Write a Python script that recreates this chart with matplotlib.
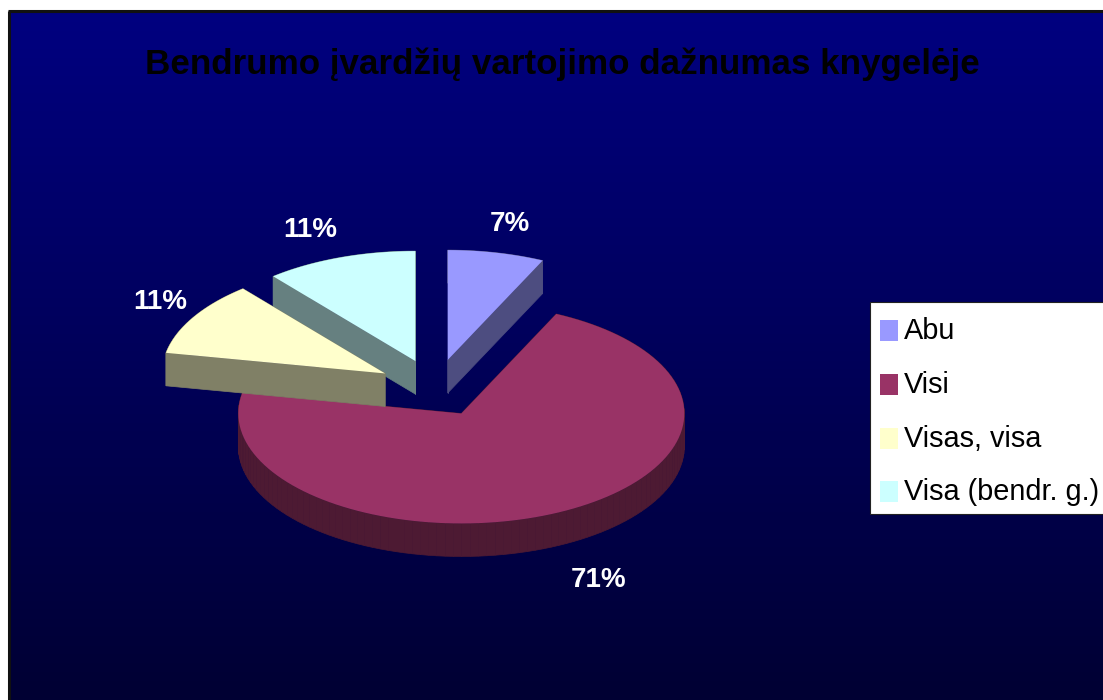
# -*- coding: utf-8 -*-
import numpy as np
import matplotlib
matplotlib.use('Agg')
import matplotlib.pyplot as plt
from matplotlib.colors import LinearSegmentedColormap, to_rgb
from matplotlib.patches import Polygon, Rectangle

# Dados
title = u'Bendrumo įvardžių vartojimo dažnumas knygelėje'
categories = ['Abu', 'Visi', 'Visas, visa', 'Visa (bendr. g.)']
values = [7, 71, 11, 11]
colors = ['#9999FF', '#993366', '#FFFFCC', '#CCFFFF']

# Layout em pixels
W, H = 1103, 700
cx, cy = 435, 388
rx, ry = 223, 110
depth = 33
explode = 0.26
label_pos = [(510, 224), (599, 580), (160, 302), (310, 230)]

plt.rcParams['font.family'] = ['Liberation Sans', 'DejaVu Sans']

fig = plt.figure(figsize=(W / 100, H / 100), dpi=100, facecolor='white')
ax = fig.add_axes([0, 0, 1, 1])
ax.set_xlim(0, W)
ax.set_ylim(H, 0)
ax.axis('off')

# Fundo em degradê
cmap = LinearSegmentedColormap.from_list('fundo', ['#000080', '#000033'])
grad = np.linspace(0, 1, 256).reshape(-1, 1)
ax.imshow(grad, cmap=cmap, extent=(10, W, H, 12), aspect='auto', zorder=0)
ax.set_xlim(0, W)
ax.set_ylim(H, 0)
ax.plot([9, 9], [H, 11], color='#111111', lw=2.2, zorder=1,
        solid_capstyle='butt')
ax.plot([8, W], [11, 11], color='#111111', lw=2.2, zorder=1,
        solid_capstyle='butt')

# Fatias: ângulo medido da vertical, sentido horário
fracs = np.array(values) / sum(values)
ends = np.cumsum(fracs) * 2 * np.pi
starts = ends - fracs * 2 * np.pi


def wedge(i):
    mid = (starts[i] + ends[i]) / 2
    ax0 = cx + explode * rx * np.sin(mid)
    ay0 = cy - explode * ry * np.cos(mid)
    t = np.linspace(starts[i], ends[i], 120)
    xs = np.r_[ax0, ax0 + rx * np.sin(t)]
    ys = np.r_[ay0, ay0 - ry * np.cos(t)]
    return np.c_[xs, ys]


# ordem de desenho: de trás para frente
for z, i in enumerate([3, 0, 1, 2]):
    pts = wedge(i)
    side = tuple(c * 0.5 for c in to_rgb(colors[i]))
    closed = np.r_[pts, pts[:1]]
    for a, b in zip(closed[:-1], closed[1:]):
        quad = [a, b, b + [0, depth], a + [0, depth]]
        ax.add_patch(Polygon(quad, closed=True, fc=side, ec=side, lw=0.5,
                             zorder=2 + z))
    ax.add_patch(Polygon(pts, closed=True, fc=colors[i], ec='none',
                         zorder=2 + z + 0.5))

# Rótulos de percentual
for v, (x, y) in zip(values, label_pos):
    ax.text(x, y, '{}%'.format(v), color='white', fontsize=20,
            fontweight='bold', ha='center', va='center', zorder=10)

# Título
ax.text(562, 64, title, color='black', fontsize=25.2, fontweight='bold',
        ha='center', va='center', zorder=10)

# Legenda
ax.add_patch(Rectangle((870, 302), 240, 212, fc='white', ec='#222222',
                       lw=0.8, zorder=10))
rows = [330, 384, 438, 491]
for name, col, y in zip(categories, colors, rows):
    ax.add_patch(Rectangle((880, y - 10), 18, 21, fc=col, ec='none',
                           zorder=11))
    ax.text(904, y + 1, name, color='black', fontsize=20.8, ha='left',
            va='center', zorder=11)

fig.savefig('out.png', dpi=100, facecolor='white')
